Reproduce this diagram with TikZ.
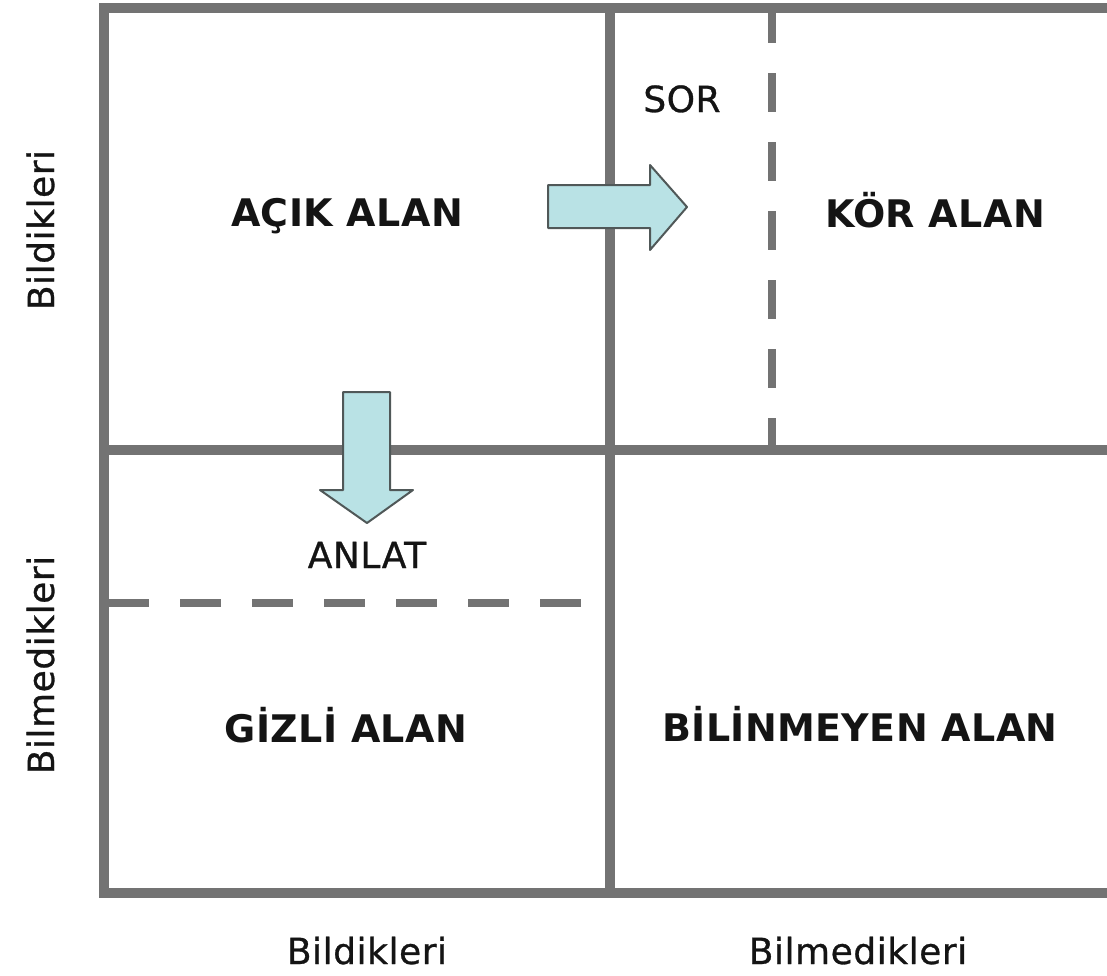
\documentclass[tikz,border=0pt]{standalone}
\usepackage{fontspec}
\setmainfont{DejaVu Sans}
\newfontfamily\areafont[LetterSpace=1]{DejaVu Sans}
\newfontfamily\lblfont[LetterSpace=1.5,FakeBold=0.8]{DejaVu Sans}
\usetikzlibrary{positioning}
\definecolor{framegray}{RGB}{115,115,115}
\definecolor{arrowfill}{RGB}{185,226,229}
\definecolor{arrowline}{RGB}{80,88,88}
\tikzset{
  frameline/.style={draw=framegray, line width=10pt},
  dashline/.style={draw=framegray, line width=8pt, dash pattern=on 39pt off 30pt},
  arrowbox/.style={fill=arrowfill, draw=arrowline, line width=2pt, line join=round},
  areatext/.style={text=black!92, font=\areafont\bfseries\fontsize{38}{46}\selectfont, inner sep=0pt},
  labeltext/.style={text=black!92, font=\lblfont\fontsize{36}{44}\selectfont, inner sep=0pt}
}

\begin{document}
\begin{tikzpicture}[x=1pt,y=-1pt]
\useasboundingbox (0,0) rectangle (1107,975);
% grid
\draw[frameline] (1107,8) -- (104,8) -- (104,893) -- (1107,893);
\draw[frameline] (104,450) -- (1107,450);
\draw[frameline] (610,8) -- (610,893);
% dashed lines
\draw[dashline, dash phase=4pt] (772,8) -- (772,450);
\draw[dashline, dash pattern=on 41pt off 31pt] (108,603) -- (581,603);
% arrows
\draw[arrowbox] (548,185) -- (650,185) -- (650,165) -- (687,207) -- (650,250) -- (650,228) -- (548,228) -- cycle;
\draw[arrowbox] (343,392) -- (390,392) -- (390,490) -- (413,490) -- (367,523) -- (320,490) -- (343,490) -- cycle;
% areas
\node[areatext, anchor=base] (open) at (347,226) {AÇIK ALAN};
\node[areatext, anchor=base] (blind) at (935,227) {KÖR ALAN};
\node[areatext, anchor=base] (hidden) at (346,742) {GİZLİ ALAN};
\node[areatext, anchor=base] (unknown) at (860,741) {BİLİNMEYEN ALAN};
\node[labeltext, anchor=base] (ask) at (682,112) {SOR};
\node[labeltext, anchor=base] (tell) at (367,568) {ANLAT};
% axes
\node[labeltext, anchor=base] (colKnown) at (367,964) {Bildikleri};
\node[labeltext, anchor=base] (colUnknown) at (858,964) {Bilmedikleri};
\node[labeltext, rotate=90, anchor=base] (rowKnown) at (54,230) {Bildikleri};
\node[labeltext, rotate=90, anchor=base] (rowUnknown) at (54,665) {Bilmedikleri};
\end{tikzpicture}
\end{document}
